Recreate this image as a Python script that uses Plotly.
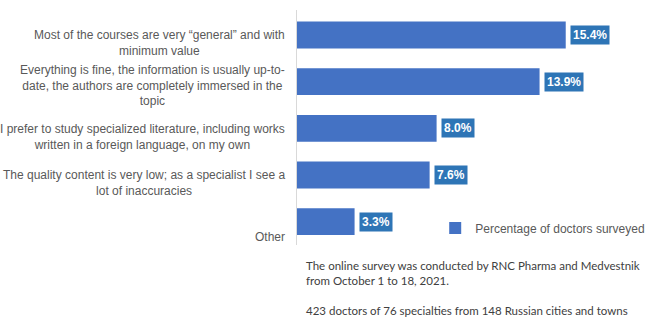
import plotly.graph_objects as go

categories = [
    "Most of the courses are very “general” and with<br>minimum value",
    "Everything is fine, the information is usually up-to-<br>date, the authors are completely immersed in the<br>topic",
    "I prefer to study specialized literature, including works<br>written in a foreign language, on my own",
    "The quality content is very low; as a specialist I see a<br>lot of inaccuracies",
    "Other",
]
values = [15.4, 13.9, 8.0, 7.6, 3.3]
series_name = "Percentage of doctors surveyed"
note = ("The online survey was conducted by RNC Pharma and Medvestnik<br>"
        "from October 1 to 18, 2021.<br><br>"
        "423 doctors of 76 specialties from 148 Russian cities and towns")

BAR = "#4472C4"
LABEL_BG = "#2E75B6"
GREY = "#595959"
FONT = "Liberation Sans, Arial, sans-serif"

# category keys used on the axis (plain ids, labels drawn as centred annotations)
keys = [f"c{i}" for i in range(len(categories))]

fig = go.Figure()
fig.add_trace(go.Bar(
    x=values, y=keys, orientation="h",
    marker=dict(color=BAR, line=dict(width=0)),
    name=series_name, showlegend=True, hoverinfo="x",
))

annotations = []
# value labels on dark boxes just past each bar end
for k, v in zip(keys, values):
    annotations.append(dict(
        x=v, y=k, xref="x", yref="y", text=f"<b>{v:.1f}%</b>",
        xanchor="left", yanchor="middle", xshift=4, showarrow=False,
        bgcolor=LABEL_BG, borderpad=2,
        font=dict(family=FONT, size=12, color="white"),
    ))

# category labels, centred lines, sitting slightly below each bar centre
label_drop = [8, 3.5, 8.5, 7.5, 15.5]
for k, text, d in zip(keys, categories, label_drop):
    annotations.append(dict(
        x=0, y=k, xref="paper", yref="y", text=text,
        xanchor="right", yanchor="middle", xshift=-10, yshift=-d,
        align="center", showarrow=False,
        font=dict(family=FONT, size=12, color=GREY),
    ))

annotations.append(dict(
    x=0, y=0, xref="paper", yref="paper", text=note,
    xanchor="left", yanchor="top", xshift=7, yshift=-12,
    align="left", showarrow=False,
    font=dict(family="Lato, sans-serif", size=11.5, color="#404040"),
))

fig.update_layout(
    width=656, height=328,
    margin=dict(l=297, r=10, t=10, b=83, autoexpand=False),
    paper_bgcolor="white", plot_bgcolor="white",
    bargap=0.425,
    xaxis=dict(range=[0, 20], showgrid=False, zeroline=False,
               showticklabels=False, showline=False, fixedrange=True),
    yaxis=dict(categoryorder="array", categoryarray=keys, autorange="reversed",
               showgrid=False, zeroline=False, showticklabels=False,
               showline=True, linecolor="#D9D9D9", linewidth=1, ticks=""),
    legend=dict(x=0.396, y=0.072, xanchor="left", yanchor="middle",
                bgcolor="rgba(0,0,0,0)",
                font=dict(family=FONT, size=12, color=GREY)),
    annotations=annotations,
    showlegend=True,
)

fig.write_html("out.html")
